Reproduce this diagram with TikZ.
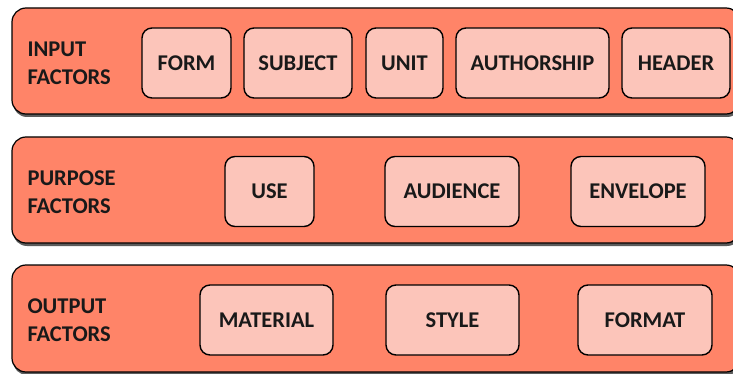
\documentclass[tikz,border=0pt]{standalone}
\usepackage{fontspec}
\setmainfont{Carlito}
\usepackage{tikz}
\usetikzlibrary{shadows}
\definecolor{bandred}{HTML}{FF8468}
\definecolor{boxpink}{HTML}{FCC5BA}
\tikzstyle{band} = [draw=black,line width=1.2pt,fill=bandred,rounded corners=14pt,
  drop shadow={shadow xshift=1pt,shadow yshift=-3pt,fill=black!80,opacity=0.8}]
\tikzstyle{factor} = [draw=black,line width=1.4pt,fill=boxpink,rounded corners=10pt,
  font=\fontsize{22.5}{25}\selectfont\bfseries,text=black!90]
\tikzstyle{bandlabel} = [anchor=west,align=left,font=\fontsize{22.5}{28}\selectfont\bfseries,text=black!90]

\begin{document}
\begin{tikzpicture}[x=1pt,y=-1pt]
            \useasboundingbox (0,0) rectangle (733,374);
            % bands
            \draw[band] (12,8) rectangle (740,114);
            \draw[band] (12,137) rectangle (740,243);
            \draw[band] (12,265) rectangle (740,372);
            \node[bandlabel] (input) at (24,63) {INPUT\\FACTORS};
            \node[bandlabel] (purpose) at (24,192) {PURPOSE\\FACTORS};
            \node[bandlabel] (output) at (24,320) {OUTPUT\\FACTORS};
            % input factors
            \node[factor,minimum width=89pt,minimum height=70pt] (form) at (186.5,63) {FORM};
            \node[factor,minimum width=108pt,minimum height=70pt] (subject) at (298,63) {SUBJECT};
            \node[factor,minimum width=77pt,minimum height=70pt] (unit) at (404.5,63) {UNIT};
            \node[factor,minimum width=153pt,minimum height=70pt] (authorship) at (532.5,63) {AUTHORSHIP};
            \node[factor,minimum width=108pt,minimum height=70pt] (header) at (676,63) {HEADER};
            % purpose factors
            \node[factor,minimum width=89pt,minimum height=70pt] (use) at (269.5,191.5) {USE};
            \node[factor,minimum width=134pt,minimum height=70pt] (audience) at (452,191.5) {AUDIENCE};
            \node[factor,minimum width=134pt,minimum height=70pt] (envelope) at (638,191.5) {ENVELOPE};
            % output factors
            \node[factor,minimum width=133pt,minimum height=70pt] (material) at (266.5,320) {MATERIAL};
            \node[factor,minimum width=133pt,minimum height=70pt] (style) at (452.5,320) {STYLE};
            \node[factor,minimum width=134pt,minimum height=70pt] (format) at (645,320) {FORMAT};
\end{tikzpicture}
\end{document}
